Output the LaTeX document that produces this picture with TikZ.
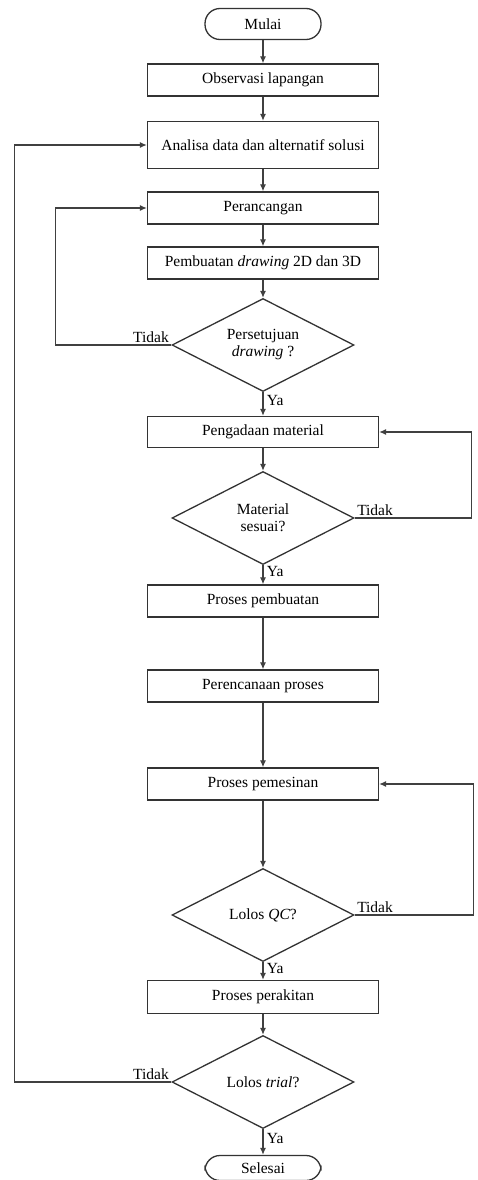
\documentclass[tikz,border=0pt]{standalone}
\usepackage{fontspec}
\setmainfont{Liberation Serif}
\usetikzlibrary{arrows.meta, shapes.geometric}

\begin{document}
\begin{tikzpicture}[x=1pt, y=1pt,
    font=\fontsize{15.5}{17}\selectfont,
    proc/.style={draw=black!80, line width=1.3pt, rectangle, minimum width=231pt, minimum height=32pt, inner sep=2pt},
    term/.style={draw=black!80, line width=1.3pt, rectangle, rounded corners=15pt, minimum width=116pt, minimum height=31pt, inner sep=2pt},
    decide/.style={draw=black!80, line width=1.3pt, diamond, aspect=1.95, minimum width=182pt, minimum height=93pt, inner sep=0pt, align=center},
    line/.style={draw=black!75, line width=1.2pt, -{Latex[length=7pt, width=6pt]}}]
    \useasboundingbox[fill=white] (0,0) rectangle (478,-1180);

    % Main column
    \node[term] (mulai) at (263,-24) {Mulai};
    \node[proc] (observasi) at (263,-80) {Observasi lapangan};
    \node[proc, minimum height=47pt] (analisa) at (263,-145) {Analisa data dan alternatif solusi};
    \node[proc] (rancang) at (263,-208) {Perancangan};
    \node[proc] (gambar) at (263,-263) {Pembuatan \textit{drawing} 2D dan 3D};
    \node[decide] (setuju) at (263,-345) {Persetujuan\\\textit{drawing} ?};
    \node[proc, minimum height=31pt] (pengadaan) at (263,-432) {Pengadaan material};
    \node[decide] (sesuai) at (263,-518) {Material\\sesuai?};
    \node[proc] (pembuatan) at (263,-601) {Proses pembuatan};
    \node[proc] (rencana) at (263,-686) {Perencanaan proses};
    \node[proc] (mesin) at (263,-784) {Proses pemesinan};
    \node[decide] (qc) at (263,-915) {Lolos \textit{QC}?};
    \node[proc, minimum height=33pt] (rakit) at (263,-997) {Proses perakitan};
    \node[decide] (trial) at (263,-1082) {Lolos \textit{trial}?};
    \node[term, minimum height=25pt] (selesai) at (263,-1168) {Selesai};

    % Forward flow
    \draw[line] (mulai) -- (observasi);
    \draw[line] (observasi) -- (analisa);
    \draw[line] (analisa) -- (rancang);
    \draw[line] (rancang) -- (gambar);
    \draw[line] (gambar) -- (setuju);
    \draw[line] (setuju) -- node[right, pos=0.35] {Ya} (pengadaan);
    \draw[line] (pengadaan) -- (sesuai);
    \draw[line] (sesuai) -- node[right, pos=0.35] {Ya} (pembuatan);
    \draw[line] (pembuatan) -- (rencana);
    \draw[line] (rencana) -- (mesin);
    \draw[line] (mesin) -- (qc);
    \draw[line] (qc) -- node[right, pos=0.35] {Ya} (rakit);
    \draw[line] (rakit) -- (trial);
    \draw[line] (trial) -- node[right, pos=0.35] {Ya} (selesai);

    % Loops back
    \draw[line] (setuju.west) node[above left, inner sep=2pt] {Tidak} -- ++(-116,0) |- (rancang.west);
    \draw[line] (sesuai.east) node[above right, inner sep=2pt] {Tidak} -- ++(117,0) |- (pengadaan.east);
    \draw[line] (qc.east) node[above right, inner sep=2pt] {Tidak} -- ++(119,0) |- (mesin.east);
    \draw[line] (trial.west) node[above left, inner sep=2pt] {Tidak} -- ++(-157,0) |- (analisa.west);
\end{tikzpicture}
\end{document}
